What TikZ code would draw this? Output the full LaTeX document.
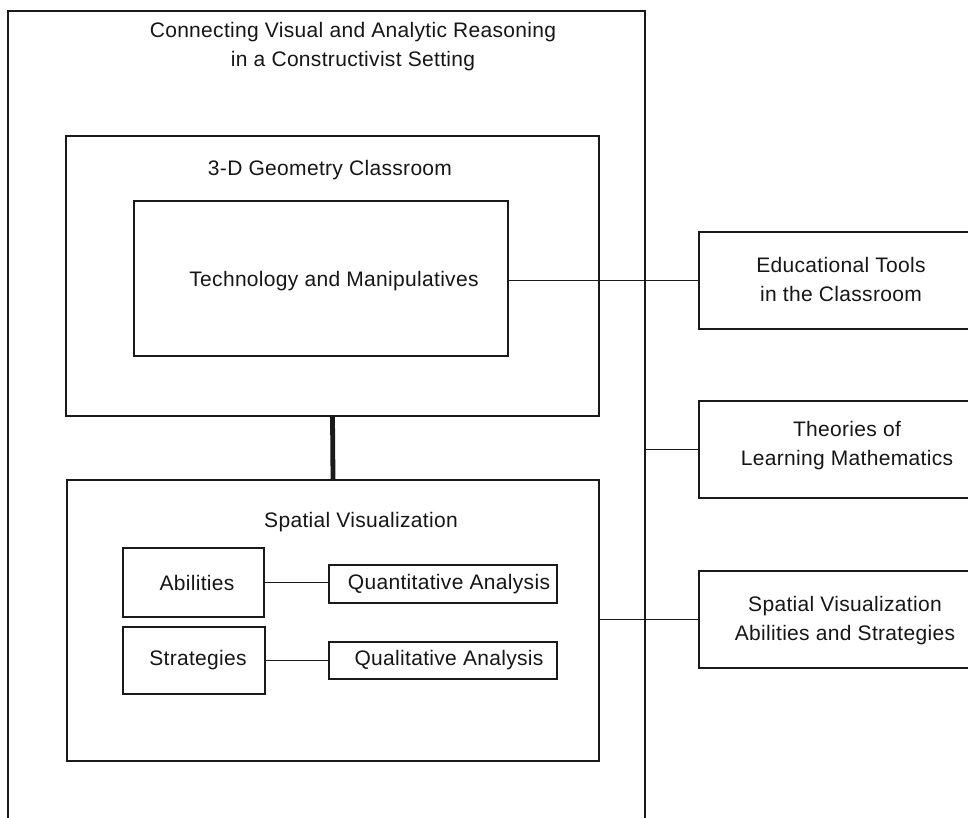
\documentclass[tikz,border=0pt]{standalone}
\usepackage{fontspec}
\setmainfont[LetterSpace=1.5]{Liberation Sans}
\definecolor{ln}{HTML}{1A1A1A}
\definecolor{txt}{HTML}{161616}
\begin{document}
\begin{tikzpicture}[x=1pt,y=-1pt,
  every node/.style={font=\fontsize{21}{29}\selectfont, text=txt},
  box/.style={draw=ln, line width=1.8pt, inner sep=0pt},
  lbl/.style={inner sep=0pt, align=center},
  conn/.style={draw=ln, line width=1.8pt},
  heavyconn/.style={draw=ln, line width=4.8pt}]
\clip (0,0) rectangle (968,817);
\useasboundingbox (0,0) rectangle (968,817);
\fill[white] (0,0) rectangle (968,817);
% outer frame (open at the bottom)
\coordinate (oBL) at (8,830);
\coordinate (oTL) at (8,11);
\coordinate (oTR) at (645,11);
\coordinate (oBR) at (645,830);
\draw[conn] (oBL) -- (oTL) -- (oTR) -- (oBR);
\node[lbl] (title) at (353,47) {Connecting Visual and Analytic Reasoning\\in a Constructivist Setting};
% classroom
\node[box, minimum width=533pt, minimum height=280pt] (class) at (332.5,276) {};
\node[lbl] (classT) at (330,170) {3-D Geometry Classroom};
\node[box, minimum width=374pt, minimum height=155pt] (tech) at (321,278.5) {};
\node[lbl] (techT) at (334,281) {Technology and Manipulatives};
% spatial visualization
\node[box, minimum width=532pt, minimum height=281pt] (spatial) at (333,620.5) {};
\node[lbl] (spatialT) at (361,522) {Spatial Visualization};
\node[box, minimum width=141pt, minimum height=69pt] (abil) at (193.5,582.5) {};
\node[lbl] (abilT) at (197,583) {Abilities};
\node[box, minimum width=142pt, minimum height=67pt] (strat) at (194,660.5) {};
\node[lbl] (stratT) at (198,660) {Strategies};
\node[box, minimum width=228pt, minimum height=38pt] (quant) at (443,584) {};
\node[lbl] (quantT) at (449,584) {Quantitative Analysis};
\node[box, minimum width=228pt, minimum height=37pt] (qual) at (443,660.5) {};
\node[lbl] (qualT) at (449,660.5) {Qualitative Analysis};
% right boxes
\node[box, minimum width=276pt, minimum height=97pt] (edu) at (837,280.5) {};
\node[lbl] (eduT) at (841,279) {Educational Tools\\in the Classroom};
\node[box, minimum width=276pt, minimum height=97pt] (theo) at (837,449.5) {};
\node[lbl] (theoT) at (847,446) {Theories of\\Learning Mathematics};
\node[box, minimum width=276pt, minimum height=97pt] (svas) at (837,619.5) {};
\node[lbl] (svasT) at (845,621) {Spatial Visualization\\Abilities and Strategies};
% connectors
\draw[conn] (tech.east |- edu.west) -- (edu.west);
\draw[conn] (theo.west -| oTR) -- (theo.west);
\draw[conn] (spatial.east |- svas.west) -- (svas.west);
\draw[conn] (abil.east) -- (abil.east -| quant.west);
\draw[conn] (strat.east) -- (strat.east -| qual.west);
\draw[heavyconn] (class.south) -- (spatial.north);
\end{tikzpicture}
\end{document}
